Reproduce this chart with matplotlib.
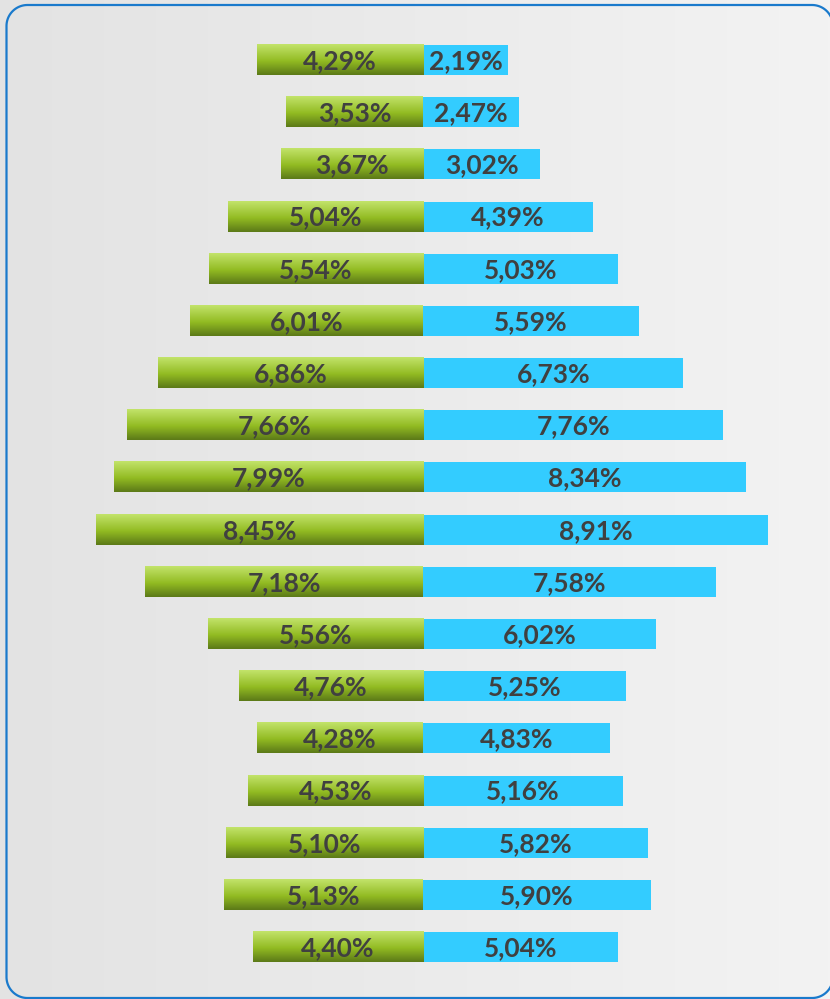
import numpy as np
import matplotlib
matplotlib.use("Agg")
import matplotlib.pyplot as plt
from matplotlib.colors import LinearSegmentedColormap

left_values = [4.29, 3.53, 3.67, 5.04, 5.54, 6.01, 6.86, 7.66, 7.99, 8.45,
               7.18, 5.56, 4.76, 4.28, 4.53, 5.10, 5.13, 4.40]
right_values = [2.19, 2.47, 3.02, 4.39, 5.03, 5.59, 6.73, 7.76, 8.34, 8.91,
                7.58, 6.02, 5.25, 4.83, 5.16, 5.82, 5.90, 5.04]

W, H = 830, 999
fig = plt.figure(figsize=(W / 100, H / 100), dpi=100)

# background gradient (pixel coordinates)
bg = fig.add_axes([0, 0, 1, 1], zorder=0)
bg.axis("off")
grad = np.linspace(0, 1, 256).reshape(1, -1)
bgcmap = LinearSegmentedColormap.from_list("bg", ["#e3e3e3", "#f3f3f3"])
bg.imshow(grad, aspect="auto", cmap=bgcmap, extent=[0, W, H, 0])
bg.set_xlim(0, W)
bg.set_ylim(H, 0)

# rounded frame built from arcs (pixel coordinates)
L, R, T, B, r = 6.5, 833.0, 5.0, 998.0, 21.0
def arc(cx, cy, a0, a1):
    t = np.radians(np.linspace(a0, a1, 30))
    return cx + r * np.cos(t), cy + r * np.sin(t)
segs = [arc(R - r, B - r, 0, 90), arc(L + r, B - r, 90, 180),
        arc(L + r, T + r, 180, 270), arc(R - r, T + r, 270, 360)]
fx = np.concatenate([s[0] for s in segs] + [segs[0][0][:1]])
fy = np.concatenate([s[1] for s in segs] + [segs[0][1][:1]])
bg.plot(fx, fy, color="#1a7acc", lw=1.6, solid_capstyle="round")
bg.set_xlim(0, W)
bg.set_ylim(H, 0)

ax = fig.add_axes([0, 0, 1, 1], zorder=1)
ax.patch.set_alpha(0)
ax.axis("off")
scale = 38.7
cx = 423
row = 52.18
y0 = 60

n = len(left_values)
ys = np.arange(n)
h = 0.575

gcmap = LinearSegmentedColormap.from_list(
    "g", [(0, "#5c7a18"), (0.45, "#92bb22"), (1, "#c2e36a")])
vgrad = np.linspace(0, 1, 64).reshape(-1, 1)

bars_l = ax.barh(ys, [-v for v in left_values], height=h, color="none")
bars_r = ax.barh(ys, right_values, height=h, color="#33ccff")

for b in bars_l:
    x0, yb = b.get_x(), b.get_y()
    w, hh = b.get_width(), b.get_height()
    ax.imshow(vgrad, aspect="auto", cmap=gcmap, origin="lower",
              extent=[x0, x0 + w, yb + hh, yb], zorder=2)
ax.set_xlim(-cx / scale, (W - cx) / scale)
ax.set_ylim((H - y0) / row, -y0 / row)

def fmt(v):
    return f"{v:.2f}".replace(".", ",") + "%"

tkw = dict(ha="center", va="center", fontsize=19, fontweight="bold",
           color="#404040", family=["Lato", "DejaVu Sans"], zorder=3)
for y, v in zip(ys, left_values):
    ax.text(-v / 2, y + 0.02, fmt(v), **tkw)
for y, v in zip(ys, right_values):
    ax.text(v / 2, y + 0.02, fmt(v), **tkw)

fig.savefig("out.png", dpi=100)
